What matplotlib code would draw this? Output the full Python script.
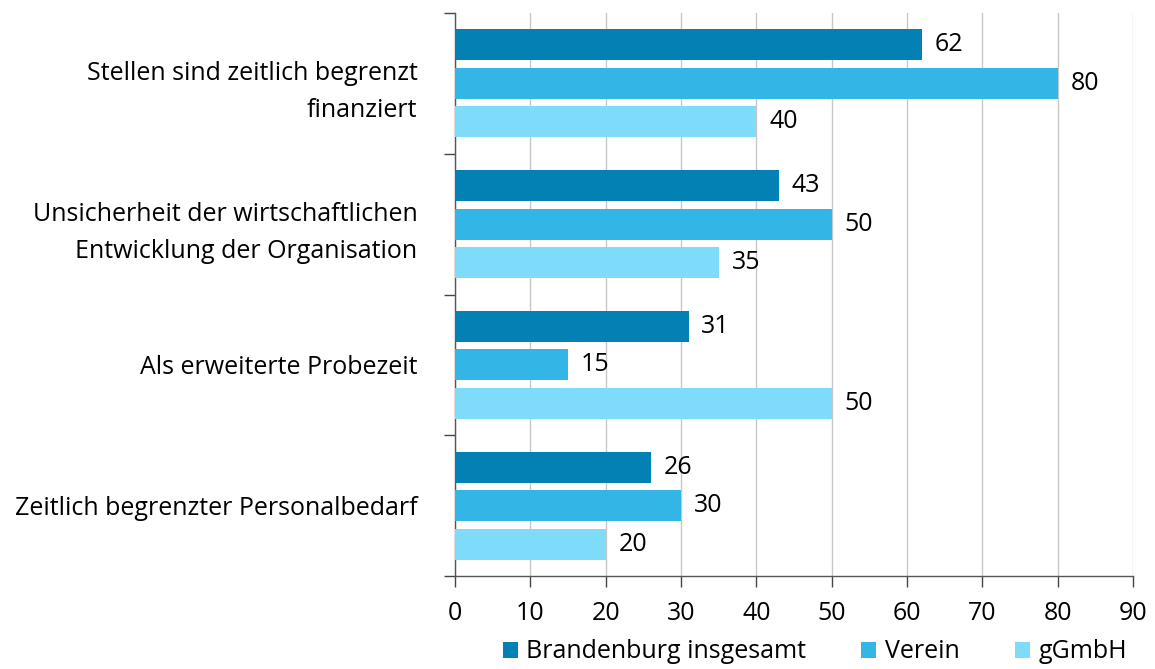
import matplotlib
matplotlib.use("Agg")
import matplotlib.pyplot as plt
from matplotlib.ticker import FixedLocator
import numpy as np

categories = ["Stellen sind zeitlich begrenzt\nfinanziert",
              "Unsicherheit der wirtschaftlichen\nEntwicklung der Organisation",
              "Als erweiterte Probezeit",
              "Zeitlich begrenzter Personalbedarf"]
series_names = ["Brandenburg insgesamt", "Verein", "gGmbH"]
brandenburg = [62, 43, 31, 26]
verein = [80, 50, 15, 30]
ggmbh = [40, 35, 50, 20]
xticks = [0, 10, 20, 30, 40, 50, 60, 70, 80, 90]

colors = ["#0380B4", "#33B5E5", "#7FDBFA"]
plt.rcParams['font.family'] = ['Open Sans', 'DejaVu Sans']
FS = 18

fig = plt.figure(figsize=(11.55, 6.69), dpi=100)
ax = fig.add_axes([455/1155, 1-576/669, (1133-455)/1155, (576-13)/669])

y = np.arange(len(categories))
h = 0.22
step = 0.273
for k, (vals, col) in enumerate(zip([brandenburg, verein, ggmbh], colors)):
    pos = y + (k - 1) * step
    ax.barh(pos, vals, height=h, color=col, label=series_names[k], zorder=3)
    for p, v in zip(pos, vals):
        ax.text(v + 1.7, p, str(v), va='center', ha='left', fontsize=FS, color='black')

ax.set_ylim(3.5, -0.5)
ax.set_xlim(0, 90)
ax.set_xticks(xticks)
ax.set_xticklabels([str(t) for t in xticks], fontsize=FS)
ax.tick_params(axis='x', direction='out', length=8, width=1, color='#444444', pad=10)
ax.set_yticks(y)
ax.set_yticklabels(categories, fontsize=FS, ha='right', multialignment='right',
                   linespacing=1.6)
ax.tick_params(axis='y', which='major', length=0, pad=27)
ax.yaxis.set_minor_locator(FixedLocator([-0.5, 0.5, 1.5, 2.5, 3.5]))
ax.tick_params(axis='y', which='minor', direction='out', length=8, width=1, color='#444444')
ax.grid(axis='x', color='#C8C8C8', linewidth=1, zorder=0)
for s in ['top', 'right']:
    ax.spines[s].set_visible(False)
for s in ['left', 'bottom']:
    ax.spines[s].set_color('#555555')
    ax.spines[s].set_linewidth(1)

fig.legend(loc='center', bbox_to_anchor=(815/1155, 1-652/669), ncol=3, frameon=False,
           fontsize=FS, handlelength=0.6, handleheight=0.6, columnspacing=2.2,
           handletextpad=0.35, borderpad=0.1)

fig.savefig("out.png", dpi=100)
